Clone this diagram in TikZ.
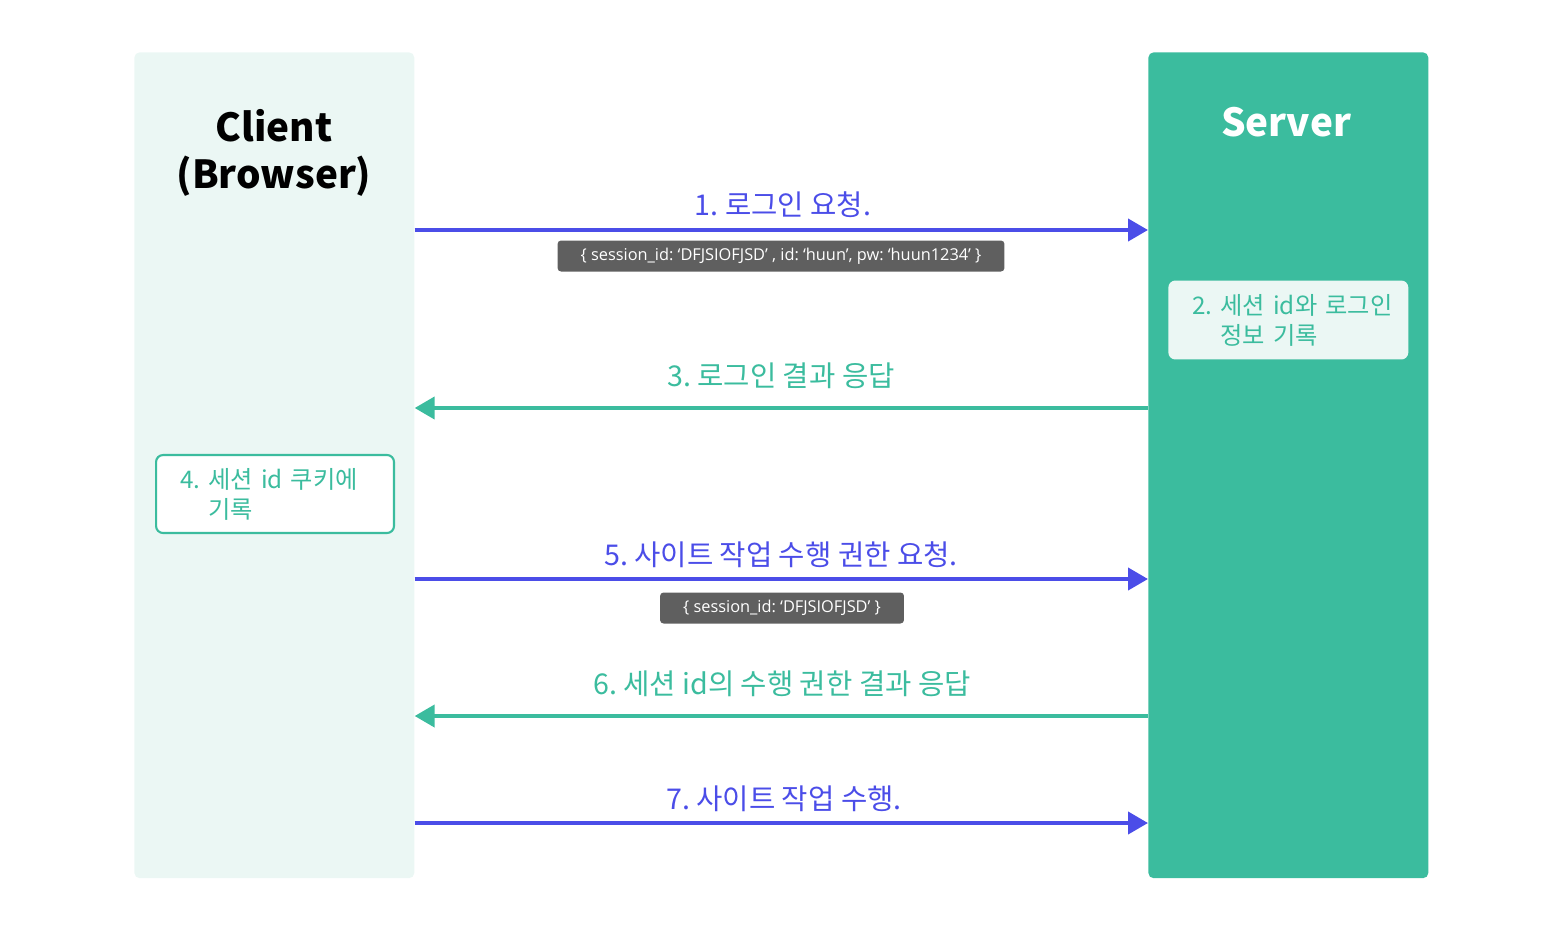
\documentclass[tikz,border=0pt]{standalone}
\usepackage{fontspec}
\setmainfont{Noto Sans CJK KR}
\newfontfamily\tagfont{Open Sans}
\usetikzlibrary{positioning, arrows.meta, calc}
\definecolor{reqBlue}{RGB}{75, 77, 232}
\definecolor{resTeal}{RGB}{59, 188, 158}
\definecolor{paleTeal}{RGB}{235, 247, 244}
\definecolor{tagGray}{RGB}{95, 95, 95}
\frenchspacing

\begin{document}
\begin{tikzpicture}[x=0.02cm, y=-0.02cm,
          panel/.style={rounded corners=3pt, inner sep=0pt, anchor=north west},
          req/.style={-{Triangle[length=0.4cm, width=0.44cm]}, line width=2.3pt, color=reqBlue},
          res/.style={-{Triangle[length=0.4cm, width=0.44cm]}, line width=2.3pt, color=resTeal},
          lbl/.style={font=\fontsize{16.3}{19}\selectfont, inner sep=0pt},
          tag/.style={fill=tagGray, text=white, rounded corners=2pt, inner sep=0pt,
                      minimum height=0.62cm, font=\tagfont\fontsize{9.3}{11}\selectfont},
          note/.style={rounded corners=4pt, align=left, text=resTeal, inner xsep=0.48cm,
                       inner ysep=0pt, text width=3.84cm, anchor=west,
                       font=\fontsize{13.8}{17}\selectfont},
          title/.style={font=\bfseries\fontsize{22}{27}\selectfont, align=center}]
        \useasboundingbox (0,0) rectangle (1564,930);
        % lanes
        \node[panel, fill=paleTeal, minimum width=5.6cm, minimum height=16.52cm] (client) at (134,52) {};
        \node[panel, fill=resTeal, minimum width=5.6cm, minimum height=16.52cm] (server) at (1148,52) {};
        \node[title] (clientname) at (274,153) {Client\\(Browser)};
        \node[title, text=white] (servername) at (1286,122) {Server};
        % rows
        \coordinate (r1) at (0,230);
        \coordinate (r3) at (0,408);
        \coordinate (r5) at (0,579);
        \coordinate (r6) at (0,716);
        \coordinate (r7) at (0,823);
        % 1
        \draw[req] (client.east |- r1) -- (server.west |- r1);
        \node[lbl, text=reqBlue] (m1) at (783,205) {1. 로그인 요청.};
        \node[tag, minimum width=8.94cm] (t1) at (781,256) {\{ session\_id: ‘DFJSIOFJSD’ , id: ‘huun’, pw: ‘huun1234’ \}};
        % 2
        \node[note, fill=paleTeal, minimum height=1.58cm] (n2) at (1168,320)
          {\mbox{2. 세션 id와 로그인}\\\mbox{\phantom{2. }정보 기록}};
        % 3
        \draw[res] (server.west |- r3) -- (client.east |- r3);
        \node[lbl, text=resTeal] (m3) at (781,376) {3. 로그인 결과 응답};
        % 4
        \node[note, draw=resTeal, line width=1.2pt, fill=white, text width=3.8cm, minimum height=1.56cm] (n4) at (155,494)
          {\mbox{4. 세션 id 쿠키에}\\\mbox{\phantom{4. }기록}};
        % 5
        \draw[req] (client.east |- r5) -- (server.west |- r5);
        \node[lbl, text=reqBlue] (m5) at (781,555) {5. 사이트 작업 수행 권한 요청.};
        \node[tag, minimum width=4.88cm] (t5) at (782,608) {\{ session\_id: ‘DFJSIOFJSD’ \}};
        % 6
        \draw[res] (server.west |- r6) -- (client.east |- r6);
        \node[lbl, text=resTeal] (m6) at (782,684) {6. 세션 id의 수행 권한 결과 응답};
        % 7
        \draw[req] (client.east |- r7) -- (server.west |- r7);
        \node[lbl, text=reqBlue] (m7) at (784,799) {7. 사이트 작업 수행.};
      \end{tikzpicture}
\end{document}
